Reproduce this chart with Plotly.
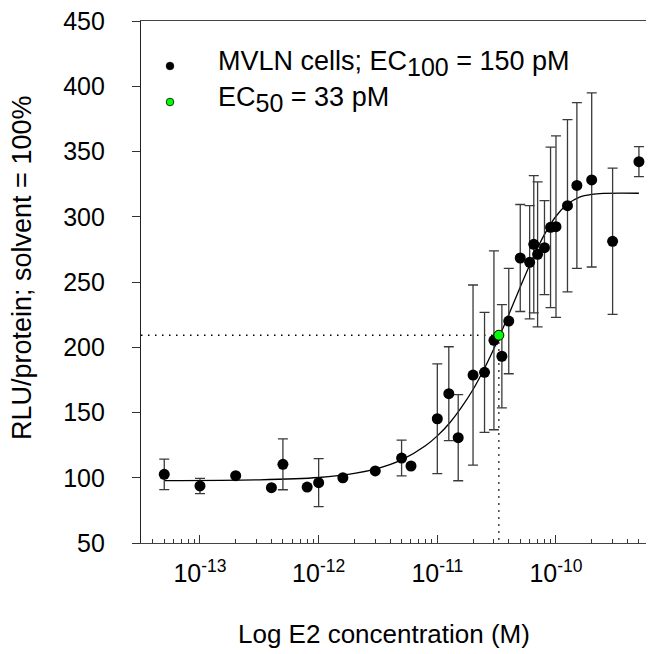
import plotly.graph_objects as go

# ---------------- data ----------------
conc = [5e-14, 1e-13, 2e-13, 4e-13, 5e-13, 8e-13, 1e-12, 1.6e-12, 3e-12, 5e-12, 6e-12,
        1e-11, 1.25e-11, 1.5e-11, 2e-11, 2.5e-11, 3e-11, 3.5e-11, 4e-11,
        5e-11, 6e-11, 6.5e-11, 7e-11, 8e-11, 9e-11, 1e-10, 1.25e-10, 1.5e-10,
        2e-10, 3e-10, 5e-10]
response = [102.6, 93.7, 101.6, 92.4, 110.3, 92.9, 96.2, 100.0, 105.2, 115.1, 109.0,
            145.2, 164.4, 130.7, 178.7, 180.8, 205.3, 193.1, 220.1,
            268.4, 265.1, 278.9, 271.2, 276.3, 291.9, 292.4, 308.5, 324.0,
            328.2, 281.2, 342.2]
sem = [11.7, 5.8, 0, 0, 19.5, 0, 18.4, 0, 0, 13.7, 0,
       42.0, 36.0, 33.0, 69.0, 46.0, 68.5, 39.6, 40.4,
       41.0, 43.4, 52.6, 55.6, 36.0, 61.5, 69.5, 66.0, 63.5,
       66.7, 56.0, 11.5]

# fitted curve, values
fit_conc = [5e-14, 3.16e-13, 1e-12, 2e-12, 3.16e-12, 5e-12, 7.94e-12, 1e-11, 1.26e-11,
            1.58e-11, 2e-11, 2.51e-11, 3.16e-11, 3.98e-11, 5.01e-11, 6.31e-11,
            7.94e-11, 1e-10, 1.26e-10, 1.58e-10, 2e-10, 2.51e-10, 5e-10]
fit_resp = [97.8, 98.4, 100.2, 103.3, 107.2, 113.7, 124.5, 132.1, 141.6,
            153.3, 167.6, 184.3, 203.5, 224.5, 246.3, 267.4,
            285.9, 300.4, 309.9, 315.1, 317.2, 317.9, 318.0]

ec50_conc = 3.3e-11
ec50_resp = 209.2

x_tick_vals = [1e-13, 1e-12, 1e-11, 1e-10]
x_tick_text = ["10<sup>-13</sup>", "10<sup>-12</sup>", "10<sup>-11</sup>", "10<sup>-10</sup>"]
y_tick_vals = [50, 100, 150, 200, 250, 300, 350, 400, 450]

legend_labels = ["MVLN cells; EC<sub><span style='font-size:25px'>100</span></sub> = 150 pM",
                 "EC<sub><span style='font-size:25px'>50</span></sub> = 33 pM"]
x_title = "Log E2 concentration (M)"
y_title = "RLU/protein; solvent = 100%"

X_LOG_RANGE = [-13.497, -9.174]
x_min = 10 ** X_LOG_RANGE[0]

FONT = "Liberation Sans, Arial, sans-serif"

fig = go.Figure()

# fitted curve
fig.add_trace(go.Scatter(x=fit_conc, y=fit_resp, mode="lines",
                         line=dict(color="black", width=1.3, shape="spline", smoothing=0.8),
                         hoverinfo="skip", showlegend=False))

# dotted EC50 guides
fig.add_trace(go.Scatter(x=[x_min, ec50_conc], y=[ec50_resp, ec50_resp], mode="lines",
                         line=dict(color="black", width=1.5, dash="1.5px,5.5px"),
                         showlegend=False, hoverinfo="skip"))
fig.add_trace(go.Scatter(x=[ec50_conc, ec50_conc], y=[ec50_resp, 50], mode="lines",
                         line=dict(color="black", width=1.5, dash="1.5px,5.5px"),
                         showlegend=False, hoverinfo="skip"))

# data
fig.add_trace(go.Scatter(x=conc, y=response, mode="markers",
                         marker=dict(color="black", size=11),
                         error_y=dict(type="data", array=sem, visible=True,
                                      color="#3a3a3a", thickness=1.3, width=5),
                         showlegend=False))

# EC50 point
fig.add_trace(go.Scatter(x=[ec50_conc], y=[ec50_resp], mode="markers",
                         marker=dict(color="#00ff00", size=10,
                                     line=dict(color="black", width=1)),
                         showlegend=False))

# page body adds an 8px offset; figure is sized so it fits the 654px window
OFF = 8
W = H = 646
L, T = 141 - OFF, 21 - OFF
R = 0
B = H - (543 - OFF)
pw = W - L - R
ph = H - T - B

def px_x(px):
    return (px - OFF - L) / pw

def px_y(py):
    return (H - B - (py - OFF)) / ph

shapes = []
for (cy, col) in [(66, "black"), (102, "#00ff00")]:
    shapes.append(dict(type="circle", xref="paper", yref="paper",
                       xsizemode="pixel", ysizemode="pixel",
                       xanchor=px_x(170), yanchor=px_y(cy),
                       x0=-3.8, x1=3.8, y0=-3.8, y1=3.8,
                       fillcolor=col, line=dict(color="black", width=0.8)))

annotations = [
    dict(text=legend_labels[0], x=px_x(216), y=px_y(63), xref="paper", yref="paper",
         xanchor="left", yanchor="middle", showarrow=False,
         font=dict(family=FONT, size=27, color="black")),
    dict(text=legend_labels[1], x=px_x(216), y=px_y(99), xref="paper", yref="paper",
         xanchor="left", yanchor="middle", showarrow=False,
         font=dict(family=FONT, size=27, color="black")),
    dict(text=x_title, x=px_x(384), y=px_y(634), xref="paper", yref="paper",
         xanchor="center", yanchor="middle", showarrow=False,
         font=dict(family=FONT, size=26, color="black")),
    dict(text=y_title, x=px_x(22), y=px_y(268), xref="paper", yref="paper",
         xanchor="center", yanchor="middle", showarrow=False, textangle=-90,
         font=dict(family=FONT, size=27, color="black")),
]

fig.update_layout(
    width=W, height=H,
    margin=dict(l=L, r=R, t=T, b=B, pad=0),
    paper_bgcolor="white", plot_bgcolor="white",
    font=dict(family=FONT, size=24, color="black"),
    shapes=shapes, annotations=annotations,
    showlegend=False,
)

fig.update_xaxes(type="log", range=X_LOG_RANGE,
                 tickvals=x_tick_vals, ticktext=x_tick_text,
                 ticks="inside", ticklen=8, tickcolor="#333", tickwidth=1,
                 minor=dict(ticks="inside", ticklen=4, tickcolor="#333", dtick="D1", showgrid=False),
                 showline=True, linecolor="#444", linewidth=1.3, mirror=True,
                 showgrid=False, zeroline=False,
                 tickfont=dict(family=FONT, size=25), ticklabelstandoff=8)
fig.update_yaxes(range=[50, 450], tickvals=y_tick_vals,
                 ticks="outside", ticklen=8, tickcolor="#333", tickwidth=1,
                 showline=True, linecolor="#222", linewidth=1.3,
                 showgrid=False, zeroline=False, ticklabeloverflow="allow",
                 tickfont=dict(family=FONT, size=25), ticklabelstandoff=22)

fig.write_html("out.html")
